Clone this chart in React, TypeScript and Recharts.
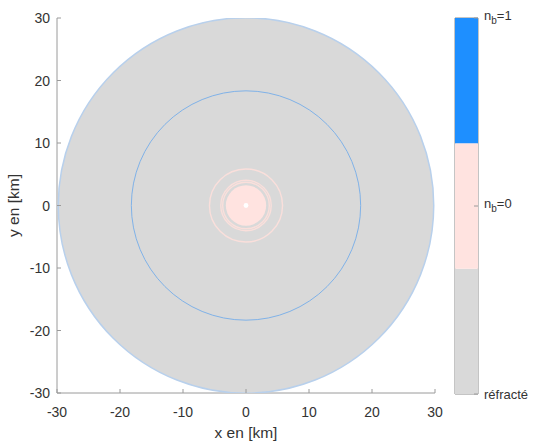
import React from "react";
import { Bar, BarChart, Label, ReferenceArea, Scatter, ScatterChart, XAxis, YAxis } from "recharts";

const X_MIN = -30;
const X_MAX = 30;
const axisTicks = [-30, -20, -10, 0, 10, 20, 30];

// every circle is centred on the origin; radius in km
const refractedRadius = [29.8];
const blueRingRadius = [18.2];
const pinkRingRadius = [5.8, 4.0, 3.7];
const pinkCoreRadius = [3.2];
const centreRadius = [0.38];

// colorbar
const colorbarLabels = ["réfracté", "n_b=0", "n_b=1"];
const colorbarSegments = [1, 1, 1];
const colorbarColors = ["#d9d9d9", "#ffe3e0", "#1e8fff"];
const colorbarTicks = [0, 1.5, 3];

const W = 533;
const H = 447;
const PLOT_W = 378;
const KM_PX = PLOT_W / (X_MAX - X_MIN);

const AXIS_COLOR = "#9a9a9a";
const TEXT_COLOR = "#333333";
const FONT = "'Liberation Sans', Arial, sans-serif";

const toPoints = (radii: number[]) => radii.map((r) => ({ x: 0, y: 0, r }));

function circleShape(fill: string, stroke: string, strokeWidth: number) {
  return (p: any) => {
    const scale = p?.xAxis?.scale;
    const r =
      typeof scale === "function"
        ? Math.abs(scale(p.payload.r) - scale(0))
        : p.payload.r * KM_PX;
    return (
      <circle cx={p.cx} cy={p.cy} r={r} fill={fill} stroke={stroke} strokeWidth={strokeWidth} />
    );
  };
}

function XTick({ x, y, payload }: any) {
  return (
    <g>
      <line x1={x} x2={x} y1={y} y2={y - 4} stroke={AXIS_COLOR} />
      <text x={x} y={y + 24} textAnchor="middle" fontSize={14} fill={TEXT_COLOR} fontFamily={FONT}>
        {payload.value}
      </text>
    </g>
  );
}

function YTick({ x, y, payload }: any) {
  return (
    <g>
      <line x1={x} x2={x + 4} y1={y} y2={y} stroke={AXIS_COLOR} />
      <text x={x - 7} y={y + 5} textAnchor="end" fontSize={14} fill={TEXT_COLOR} fontFamily={FONT}>
        {payload.value}
      </text>
    </g>
  );
}

function ColorbarTick({ x, y, index }: any) {
  const label = colorbarLabels[index];
  const [main, sub] = label.split("_");
  return (
    <g>
      <line x1={x} x2={x - 4} y1={y} y2={y} stroke={AXIS_COLOR} />
      {sub ? (
        <text x={x + 6} y={y + 2} fontSize={13} fill={TEXT_COLOR} fontFamily={FONT}>
          <tspan>{main}</tspan>
          <tspan dy={4} fontSize={10}>
            {sub.charAt(0)}
          </tspan>
          <tspan dy={-4}>{sub.slice(1)}</tspan>
        </text>
      ) : (
        <text x={x + 6} y={y + 5} fontSize={13} fill={TEXT_COLOR} fontFamily={FONT}>
          {label}
        </text>
      )}
    </g>
  );
}

const colorbarRow = [
  colorbarSegments.reduce<Record<string, number | string>>(
    (row, v, i) => ({ ...row, ["s" + i]: v }),
    { name: "cb" }
  ),
];

export default function App() {
  return (
    <div style={{ position: "absolute", left: 0, top: 0, width: W, height: H, background: "#fff" }}>
      <div style={{ position: "absolute", left: 0, top: 0 }}>
        <ScatterChart width={W} height={H} margin={{ top: 18, right: 98, bottom: 24, left: 0 }}>
          <XAxis
            type="number"
            dataKey="x"
            domain={[X_MIN, X_MAX]}
            ticks={axisTicks}
            height={30}
            stroke={AXIS_COLOR}
            tickLine={false}
            tickSize={0}
            tickMargin={0}
            tick={<XTick />}
            allowDataOverflow
          >
            <Label
              content={({ viewBox }: any) => (
                <text
                  x={viewBox.x + viewBox.width / 2}
                  y={viewBox.y + 45}
                  textAnchor="middle"
                  fontSize={15.5}
                  fill={TEXT_COLOR}
                  fontFamily={FONT}
                >
                  x en [km]
                </text>
              )}
            />
          </XAxis>
          <YAxis
            type="number"
            dataKey="y"
            domain={[X_MIN, X_MAX]}
            ticks={axisTicks}
            width={57}
            stroke={AXIS_COLOR}
            tickLine={false}
            tickSize={0}
            tickMargin={0}
            tick={<YTick />}
            allowDataOverflow
          >
            <Label
              content={({ viewBox }: any) => {
                const cx = 19;
                const cy = viewBox.y + viewBox.height / 2;
                return (
                  <text
                    x={cx}
                    y={cy}
                    transform={`rotate(-90 ${cx} ${cy})`}
                    textAnchor="middle"
                    fontSize={15.5}
                    fill={TEXT_COLOR}
                    fontFamily={FONT}
                  >
                    y en [km]
                  </text>
                );
              }}
            />
          </YAxis>
          <Scatter data={toPoints(refractedRadius)} shape={circleShape("#d9d9d9", "#b8d0ec", 1.5)} isAnimationActive={false} />
          <Scatter data={toPoints(blueRingRadius)} shape={circleShape("none", "#80b2e8", 1)} isAnimationActive={false} />
          <Scatter data={toPoints(pinkRingRadius)} shape={circleShape("none", "#fadfdb", 1.4)} isAnimationActive={false} />
          <Scatter data={toPoints(pinkCoreRadius)} shape={circleShape("#ffe3e0", "none", 0)} isAnimationActive={false} />
          <Scatter data={toPoints(centreRadius)} shape={circleShape("#ffffff", "none", 0)} isAnimationActive={false} />
        </ScatterChart>
      </div>
      <div style={{ position: "absolute", left: 0, top: 0 }}>
        <BarChart
          width={W}
          height={H}
          data={colorbarRow}
          margin={{ top: 18, right: 5, bottom: 53, left: 455 }}
          barCategoryGap={0}
        >
          <XAxis dataKey="name" hide />
          <YAxis
            orientation="right"
            type="number"
            domain={[0, 3]}
            ticks={colorbarTicks}
            width={50}
            axisLine={false}
            tickLine={false}
            tickSize={0}
            tickMargin={0}
            tick={<ColorbarTick />}
          />
          {colorbarSegments.map((_, i) => (
            <Bar key={i} dataKey={"s" + i} stackId="cb" fill={colorbarColors[i]} isAnimationActive={false} />
          ))}
          <ReferenceArea y1={0} y2={3} fill="none" stroke="#8a8a8a" strokeWidth={1} />
        </BarChart>
      </div>
    </div>
  );
}
